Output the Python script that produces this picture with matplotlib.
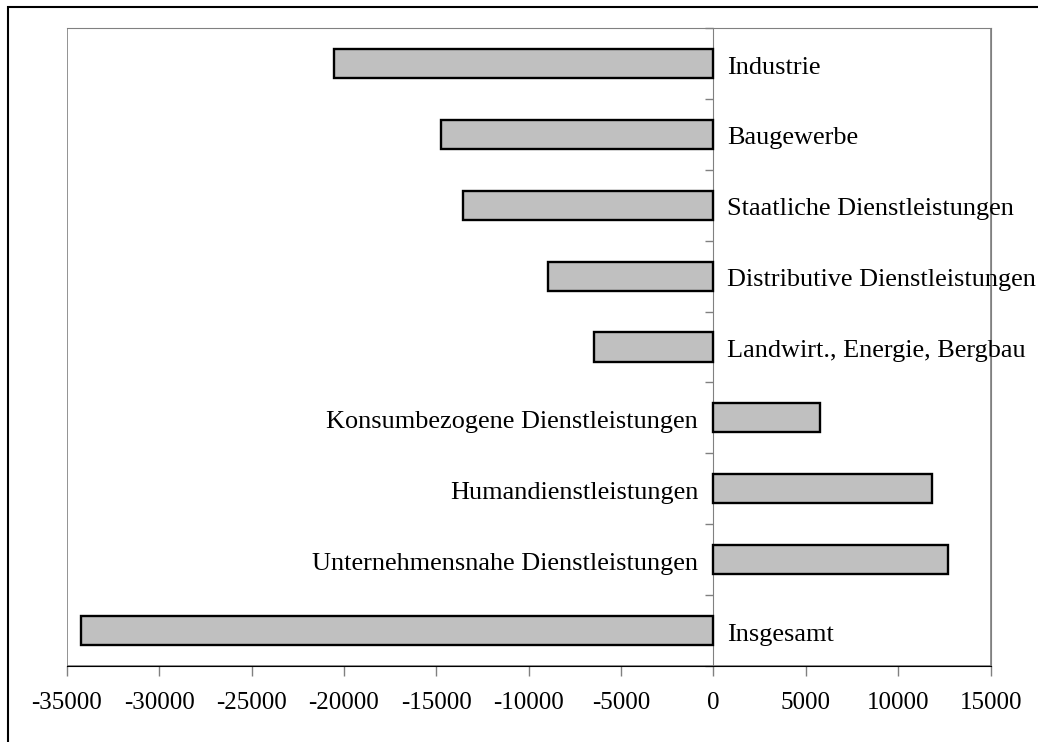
import matplotlib.pyplot as plt
from matplotlib.patches import Rectangle

# Data (top to bottom as shown)
categories = ["Industrie", "Baugewerbe", "Staatliche Dienstleistungen",
              "Distributive Dienstleistungen", "Landwirt., Energie, Bergbau",
              "Konsumbezogene Dienstleistungen", "Humandienstleistungen",
              "Unternehmensnahe Dienstleistungen", "Insgesamt"]
values = [-20560, -14720, -13530, -8980, -6490, 5770, 11830, 12700, -34240]
xticks = [-35000, -30000, -25000, -20000, -15000, -10000, -5000, 0, 5000, 10000, 15000]

plt.rcParams['font.family'] = ['Liberation Serif', 'DejaVu Serif']

fig = plt.figure(figsize=(10.38, 7.42), dpi=100)
ax = fig.add_axes([0.0643, 0.1024, 0.8901, 0.8599])

n = len(categories)
ypos = [n - 1 - i for i in range(n)]
ax.barh(ypos, values, height=0.41, color='#C0C0C0', edgecolor='black', linewidth=1.7, zorder=3)

ax.set_xlim(-35000, 15000)
ax.set_ylim(-0.5, n - 0.5)

# category labels next to the zero line
for y, v, name in zip(ypos, values, categories):
    if v < 0:
        ax.annotate(name, (0, y), xytext=(10, -3), textcoords='offset points',
                    ha='left', va='center', fontsize=18.9, annotation_clip=False)
    else:
        ax.annotate(name, (0, y), xytext=(-11, -3), textcoords='offset points',
                    ha='right', va='center', fontsize=18.9, annotation_clip=False)

# axes styling
for s in ['top', 'right']:
    ax.spines[s].set_color('#808080')
ax.spines['bottom'].set_color('black')
ax.spines['left'].set_position(('data', 0))
ax.spines['left'].set_color('#808080')
ax.add_patch(Rectangle((0, 0), 1, 1, transform=ax.transAxes, fill=False,
                       edgecolor='#808080', linewidth=1.2, zorder=1))

ax.set_xticks(xticks)
ax.set_xticklabels([str(t) for t in xticks], fontsize=18)
ax.tick_params(axis='x', direction='out', length=7.5, width=1, color='#808080', pad=11)
ax.set_yticks([i - 0.5 for i in range(n + 1)])
ax.set_yticklabels([])
ax.tick_params(axis='y', direction='out', length=5.5, width=1, color='#808080')

# outer frame
fig.add_artist(Rectangle((0.0077, -0.1), 2, 1.0906, transform=fig.transFigure,
                         fill=False, edgecolor='black', linewidth=1.5))

fig.savefig('out.png', dpi=100)
